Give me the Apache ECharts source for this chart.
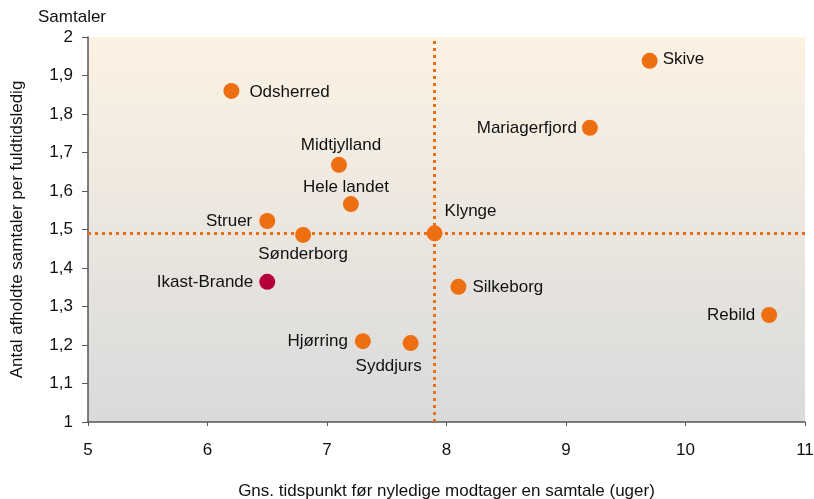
<!DOCTYPE html>
<html><head><meta charset="utf-8">
<script src="https://cdn.jsdelivr.net/npm/echarts@6/dist/echarts.min.js"></script>
<style>html,body{margin:0;padding:0;background:#fff}#c{width:814px;height:499px}</style>
</head><body><div id="c"></div>
<script>
const names = ["Skive","Odsherred","Mariagerfjord","Midtjylland","Hele landet","Struer","Sønderborg","Klynge","Ikast-Brande","Silkeborg","Rebild","Hjørring","Syddjurs"];
const weeks = [9.7,6.2,9.2,7.1,7.2,6.5,6.8,7.9,6.5,8.1,10.7,7.3,7.7];
const talks = [1.938,1.86,1.764,1.668,1.566,1.522,1.486,1.49,1.364,1.351,1.278,1.21,1.205];
const labelPos = ["right","right","left","top","top","left","bottom","klynge","left","right","left","left","bottom"];
const highlight = "Ikast-Brande";
const refWeeks = 7.9;
const refTalks = 1.49;

const FONT = "'Liberation Sans', Arial, sans-serif";
// per-label fine placement (distance, offset)
const labelTweak = {
  "Skive":{distance:5,offset:[0,-2]},
  "Odsherred":{distance:10,offset:[0,1]},
  "Mariagerfjord":{distance:5},
  "Midtjylland":{distance:3,offset:[2,0]},
  "Hele landet":{distance:0,offset:[-5,0]},
  "Struer":{distance:7},
  "Sønderborg":{distance:3},
  "Ikast-Brande":{distance:6},
  "Silkeborg":{distance:6},
  "Rebild":{distance:6},
  "Hjørring":{distance:7},
  "Syddjurs":{distance:7,offset:[-22,0]}
};
const data = names.map((n,i)=>{
  const p = labelPos[i];
  let label;
  if (p === "klynge") label = {position:[18,-23]};
  else label = Object.assign({position:p}, labelTweak[n]||{});
  return {name:n, value:[weeks[i],talks[i]],
    itemStyle:{color: n===highlight ? "#B5003A" : "#EE6E12", opacity:1}, label};
});
const chart = echarts.init(document.getElementById('c'));
chart.setOption({
  animation:false,
  textStyle:{fontFamily:FONT},
  grid:{left:88,right:9,top:37,bottom:77,show:true,borderWidth:0,outerBoundsMode:'none',containLabel:false,
    backgroundColor:new echarts.graphic.LinearGradient(0,0,0,1,[{offset:0,color:"#FCF2E3"},{offset:1,color:"#D9DADB"}])},
  xAxis:{type:'value',min:5,max:11,interval:1,
    name:"Gns. tidspunkt før nyledige modtager en samtale (uger)",nameLocation:'middle',nameGap:61,
    nameTextStyle:{color:'#111',fontSize:17,fontFamily:FONT},
    axisLine:{lineStyle:{color:'#555',width:1.5}},
    axisTick:{show:true,length:4,lineStyle:{color:'#555'}},
    axisLabel:{color:'#111',fontSize:17,margin:20,fontFamily:FONT,formatter:v=>String(v)},
    splitLine:{show:false}},
  yAxis:{type:'value',min:1,max:2,interval:0.1,
    name:"Antal afholdte samtaler per fuldtidsledig",nameLocation:'middle',nameGap:62,nameRotate:90,
    nameTextStyle:{color:'#111',fontSize:17,fontFamily:FONT},
    axisLine:{show:true,lineStyle:{color:'#555',width:1.5}},
    axisTick:{show:true,length:6,lineStyle:{color:'#555'}},
    axisLabel:{color:'#111',fontSize:17,margin:15,fontFamily:FONT,
      formatter:v=>{const r=Math.round(v*10)/10; return String(r).replace('.',',');}},
    splitLine:{show:false}},
  graphic:[{type:'text',left:38,top:9,style:{text:"Samtaler",fontSize:17,fill:'#111',fontFamily:FONT}}],
  series:[{
    type:'scatter',symbolSize:16,z:5,
    itemStyle:{opacity:1},
    data:data,
    label:{show:true,formatter:'{b}',color:'#111',fontSize:17,fontFamily:FONT},
    markLine:{silent:true,symbol:'none',z:3,label:{show:false},
      lineStyle:{color:'#EE6E12',width:3,type:[3,4],opacity:1},
      data:[{xAxis:refWeeks},{yAxis:refTalks}]}
  }]
});
</script></body></html>
